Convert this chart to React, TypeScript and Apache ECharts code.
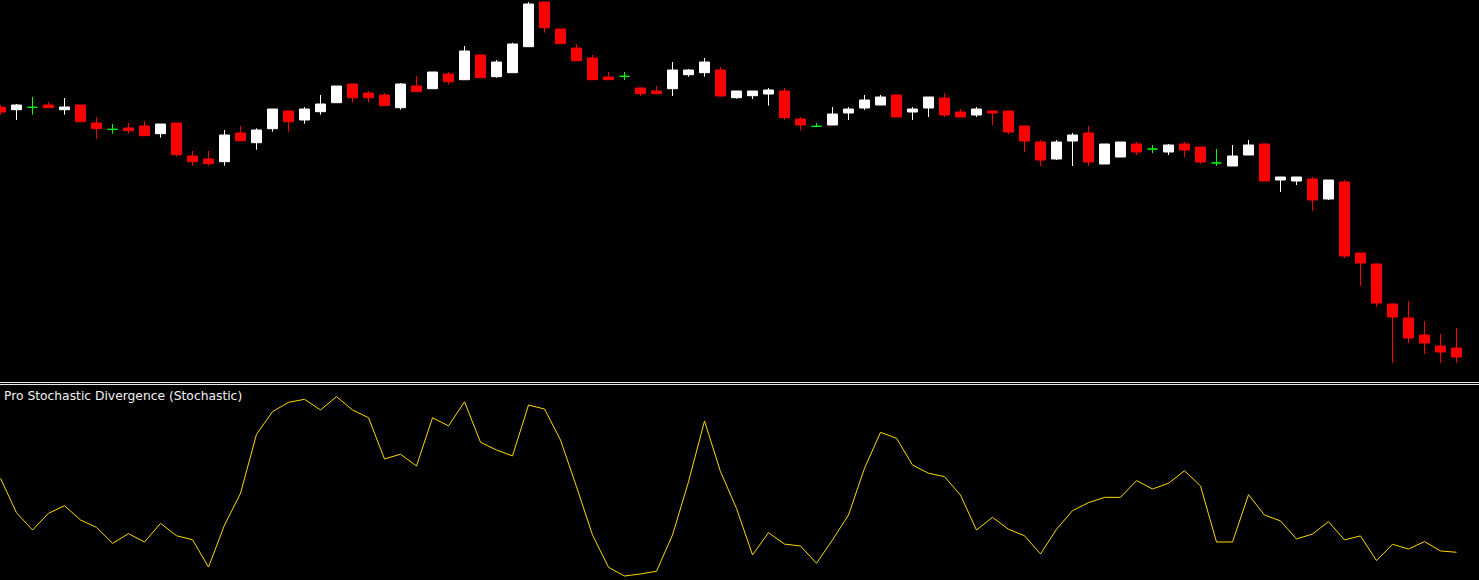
import React, { useEffect, useRef } from "react";
import * as echarts from "echarts";

const opens = [292.7, 290.3, 292.7, 295, 290.3, 295, 277, 270.7, 272, 274, 266.3, 277, 244, 241, 238.3, 267, 257.3, 271.3, 289, 280, 288.3, 297.3, 316, 307, 305, 292.3, 314, 311.3, 326, 320.3, 345, 323.3, 327.3, 353.3, 398, 371, 352, 342, 323, 323.7, 312, 309, 311.3, 325.3, 327.3, 330, 302.3, 304.3, 306, 309, 281, 273.7, 275, 287, 292, 295, 305, 288, 292, 302, 288, 285, 289, 289, 274, 258, 241, 259, 267, 236, 243, 256, 251, 248, 256, 253, 237, 234, 245, 256, 220, 219, 221, 201, 218, 147, 136, 96, 82, 65, 54, 52];
const closes = [288, 295, 292.7, 292.3, 293, 278.3, 271.3, 270.7, 269.3, 264.3, 276, 245.3, 238.3, 236.3, 265, 259.3, 270, 291, 278.3, 291, 296, 314, 302.3, 302.3, 294.3, 316, 308.3, 328, 318.3, 349, 322.3, 338, 356, 396, 372.3, 356.3, 339.3, 320.3, 320.3, 323.7, 306.3, 306.3, 330, 330, 338, 304, 309, 309, 310, 282.3, 275, 273.7, 286, 291, 300, 303, 283, 291, 303, 285, 283, 291, 287, 268, 259, 240, 258, 265, 238, 256, 258, 248, 251, 255, 250, 238, 237, 244, 255, 219, 223, 223, 200, 220, 144, 137, 97, 83, 62, 57, 48, 43];
const lows = [285.3, 280, 285.3, 292.3, 285.3, 278.3, 261, 266.3, 266.3, 264.3, 262.3, 243.3, 234.3, 234.3, 234.3, 259.3, 250.3, 268.3, 268.3, 276.3, 285.3, 297.3, 297.3, 297.3, 294.3, 290.3, 308.3, 311.3, 315.3, 320.3, 322.3, 322.3, 327.3, 353.3, 367.3, 356.3, 339.3, 320.3, 320.3, 320, 304, 306.3, 304, 323.3, 323.3, 304, 301.3, 301, 294.3, 280.3, 269.3, 273.7, 275, 280, 290, 295, 283, 280, 283, 283, 283, 283, 275, 266, 248, 234, 240, 234, 234, 236, 243, 245, 247, 245, 243, 236, 234, 234, 245, 219, 208, 215, 189, 200, 142, 114, 93, 37, 57, 46, 37, 37];
const highs = [295, 296, 303, 298, 302, 295, 283, 276, 277, 279, 276, 277, 249, 249, 270, 274, 271.7, 291, 289, 293, 305, 314, 316, 309, 307, 317, 324, 328, 328, 354, 345, 340, 357.3, 398, 398, 371, 356, 345, 328, 328, 312, 314, 338, 331, 342, 333, 309, 309, 312, 312, 283, 277, 293, 293, 305, 305, 305, 293, 303, 307, 291, 293, 289, 289, 274, 260, 260, 267, 274, 256, 258, 258, 255, 256, 258, 253, 251, 255, 260, 256, 223, 223, 223, 220, 220, 147, 136, 96, 99, 79, 66, 72];
const stochastic = [53.5, 35.4, 26.3, 35.1, 39.1, 31.6, 27.7, 19.3, 24.4, 20.0, 29.8, 23.3, 21.2, 6.8, 28.9, 45.6, 76.7, 88.6, 93.5, 95.1, 89.5, 96.5, 89.5, 85.4, 63.7, 66.2, 60.0, 85.4, 81.1, 93.8, 72.5, 68.4, 65.3, 92.1, 90.0, 73.7, 49.1, 23.7, 6.7, 2.1, 3.2, 4.6, 23.7, 51.7, 83.7, 57.0, 37.7, 13.2, 24.9, 18.9, 17.9, 8.8, 21.1, 34.2, 58.8, 77.7, 74.6, 60.5, 56.2, 54.4, 44.7, 26.3, 33.0, 26.7, 23.3, 13.7, 26.7, 36.5, 40.7, 43.5, 43.5, 52.3, 47.9, 50.9, 57.5, 49.5, 20.0, 20.0, 44.9, 34.2, 31.1, 21.6, 24.2, 30.7, 21.1, 23.2, 10.2, 18.8, 16.3, 20.2, 15.3, 14.6];
const bars = opens.map((_, i) => `Bar ${i + 1}`);
const indicatorTitle = "Pro Stochastic Divergence (Stochastic)";

export default function App() {
  const ref = useRef<HTMLDivElement>(null);
  useEffect(() => {
    if (!ref.current) return;
    const chart = echarts.init(ref.current, null, { renderer: "svg" });
    const green = "#00ff00";
    const candleData = opens.map((o, i) => {
      const v = [o, closes[i], lows[i], highs[i]];
      if (o === closes[i]) {
        return {
          value: v,
          itemStyle: { color: green, color0: green, borderColor: green, borderColor0: green },
        };
      }
      return { value: v };
    });
    chart.setOption({
      animation: false,
      backgroundColor: "#000000",
      grid: [
        { left: 0.5, right: 22.5, top: 0, height: 383 },
        { left: 0.5, right: 22.5, top: 390, height: 190 },
      ],
      xAxis: [
        { type: "category", data: bars, gridIndex: 0, boundaryGap: false, show: false },
        { type: "category", data: bars, gridIndex: 1, boundaryGap: false, show: false },
      ],
      yAxis: [
        { type: "value", gridIndex: 0, min: 17, max: 400, show: false, splitLine: { show: false } },
        { type: "value", gridIndex: 1, min: 0, max: 100, show: false, splitLine: { show: false } },
      ],
      graphic: [
        { type: "rect", shape: { x: 0, y: 382, width: 1479, height: 1 }, style: { fill: "#e8e8e8" }, silent: true },
        { type: "rect", shape: { x: 0, y: 384, width: 1479, height: 1 }, style: { fill: "#e8e8e8" }, silent: true },
        {
          type: "text",
          left: 4,
          top: 390,
          style: { text: indicatorTitle, fill: "#f2f2f2", font: "12.3px 'DejaVu Sans'" },
          silent: true,
        },
      ],
      series: [
        {
          type: "candlestick",
          xAxisIndex: 0,
          yAxisIndex: 0,
          data: candleData,
          barWidth: 10,
          clip: false,
          itemStyle: {
            color: "#ffffff",
            color0: "#ff0000",
            borderColor: "#ffffff",
            borderColor0: "#ff0000",
            borderWidth: 1,
          },
        },
        {
          type: "line",
          xAxisIndex: 1,
          yAxisIndex: 1,
          data: stochastic,
          showSymbol: false,
          symbol: "none",
          lineStyle: { color: "#ffd700", width: 1 },
          clip: false,
        },
      ],
    });
    return () => chart.dispose();
  }, []);
  return (
    <div
      ref={ref}
      style={{ position: "fixed", left: 0, top: 0, width: 1479, height: 580, background: "#000" }}
    />
  );
}
